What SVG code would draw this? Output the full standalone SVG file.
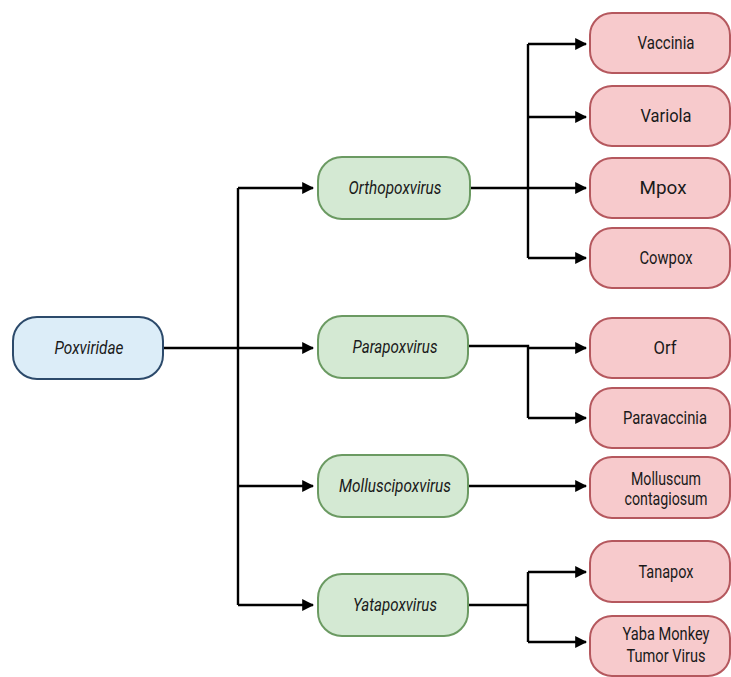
<svg xmlns="http://www.w3.org/2000/svg" width="731" height="677" viewBox="0 0 731 677">
<style>
.root rect{fill:#dcedf8;stroke:#2c4a6b;stroke-width:2}
.genus rect{fill:#d4e9d3;stroke:#6b9a62;stroke-width:2}
.species rect{fill:#f7cacc;stroke:#b5585e;stroke-width:2}
text{font-family:Roboto,"Liberation Sans",sans-serif;font-size:17.5px;fill:#1a1a1a;text-anchor:middle;dominant-baseline:central}
.it{font-style:italic}
.conn path{fill:none;stroke:#000;stroke-width:2.4}
</style>
<defs>
<marker id="ah" viewBox="0 0 10 10" refX="9" refY="5" markerWidth="5" markerHeight="5" orient="auto" markerUnits="strokeWidth">
<path d="M0,0 L10,5 L0,10 z" fill="#000"/>
</marker>
</defs>
<rect width="731" height="677" fill="#fff"/>
<g class="conn">
<path d="M163,348 H313" marker-end="url(#ah)"/>
<path d="M238,188 V605"/>
<path d="M238,188 H313" marker-end="url(#ah)"/>
<path d="M238,486 H313" marker-end="url(#ah)"/>
<path d="M238,605 H313" marker-end="url(#ah)"/>
<path d="M470,188 H586" marker-end="url(#ah)"/>
<path d="M528,44 V258"/>
<path d="M528,44 H586" marker-end="url(#ah)"/>
<path d="M528,117 H586" marker-end="url(#ah)"/>
<path d="M528,258 H586" marker-end="url(#ah)"/>
<path d="M468,346 H528 V418"/>
<path d="M528,348 H586" marker-end="url(#ah)"/>
<path d="M528,418 H586" marker-end="url(#ah)"/>
<path d="M468,486 H586" marker-end="url(#ah)"/>
<path d="M468,605 H528"/>
<path d="M528,572 V642"/>
<path d="M528,572 H586" marker-end="url(#ah)"/>
<path d="M528,642 H586" marker-end="url(#ah)"/>
</g>
<g id="poxviridae" class="root"><rect x="13" y="317" width="150" height="62" rx="24"/><text class="it" x="89" y="348" textLength="69" lengthAdjust="spacingAndGlyphs">Poxviridae</text></g>
<g id="orthopoxvirus" class="genus"><rect x="318" y="157" width="152" height="62" rx="24"/><text class="it" x="395" y="188" textLength="93" lengthAdjust="spacingAndGlyphs">Orthopoxvirus</text></g>
<g id="parapoxvirus" class="genus"><rect x="318" y="316" width="150" height="62" rx="24"/><text class="it" x="395" y="347" textLength="85" lengthAdjust="spacingAndGlyphs">Parapoxvirus</text></g>
<g id="molluscipoxvirus" class="genus"><rect x="318" y="455" width="150" height="62" rx="24"/><text class="it" x="395" y="486" textLength="112" lengthAdjust="spacingAndGlyphs">Molluscipoxvirus</text></g>
<g id="yatapoxvirus" class="genus"><rect x="318" y="574" width="150" height="62" rx="24"/><text class="it" x="395" y="605" textLength="84" lengthAdjust="spacingAndGlyphs">Yatapoxvirus</text></g>
<g id="vaccinia" class="species"><rect x="590" y="13" width="140" height="60" rx="22"/><text x="666" y="43" textLength="57" lengthAdjust="spacingAndGlyphs">Vaccinia</text></g>
<g id="variola" class="species"><rect x="590" y="86" width="140" height="60" rx="22"/><text x="666" y="116" textLength="51" lengthAdjust="spacingAndGlyphs">Variola</text></g>
<g id="mpox" class="species"><rect x="590" y="158" width="140" height="60" rx="22"/><text x="663" y="188" textLength="47" lengthAdjust="spacingAndGlyphs">Mpox</text></g>
<g id="cowpox" class="species"><rect x="590" y="228" width="140" height="60" rx="22"/><text x="666" y="258" textLength="53" lengthAdjust="spacingAndGlyphs">Cowpox</text></g>
<g id="orf" class="species"><rect x="590" y="318" width="140" height="60" rx="22"/><text x="665" y="348" textLength="23" lengthAdjust="spacingAndGlyphs">Orf</text></g>
<g id="paravaccinia" class="species"><rect x="590" y="388" width="140" height="60" rx="22"/><text x="665" y="418" textLength="84" lengthAdjust="spacingAndGlyphs">Paravaccinia</text></g>
<g id="molluscum" class="species"><rect x="590" y="457" width="140" height="61" rx="22"/><text x="666" y="479" textLength="70" lengthAdjust="spacingAndGlyphs">Molluscum</text><text x="666" y="499" textLength="83" lengthAdjust="spacingAndGlyphs">contagiosum</text></g>
<g id="tanapox" class="species"><rect x="590" y="541" width="140" height="61" rx="22"/><text x="666" y="572" textLength="55" lengthAdjust="spacingAndGlyphs">Tanapox</text></g>
<g id="yaba" class="species"><rect x="590" y="616" width="140" height="60" rx="22"/><text x="666" y="634" textLength="87" lengthAdjust="spacingAndGlyphs">Yaba Monkey</text><text x="666" y="656" textLength="79" lengthAdjust="spacingAndGlyphs">Tumor Virus</text></g>
</svg>
